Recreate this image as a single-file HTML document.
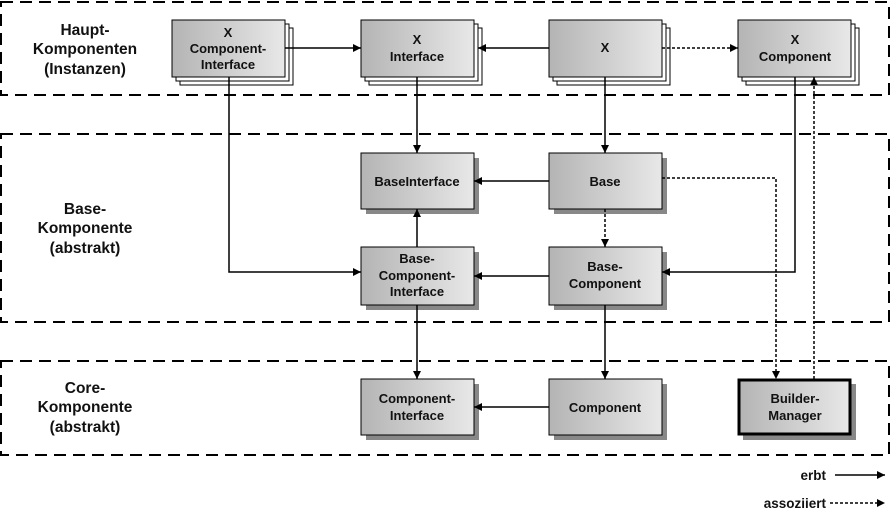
<!DOCTYPE html>
<html><head><meta charset="utf-8"><style>
html,body{margin:0;padding:0;background:#fff;width:891px;height:511px;overflow:hidden}
text{font-family:"Liberation Sans",Arial,sans-serif;font-weight:bold;font-size:13px;fill:#111}
text.big{font-size:15.5px}
text.leg{font-size:13.5px}
</style></head><body>
<svg width="891" height="511" viewBox="0 0 891 511" xmlns="http://www.w3.org/2000/svg">
<defs>
<linearGradient id="g" x1="0" x2="1" y1="0" y2="0"><stop offset="0" stop-color="#b4b4b4"/><stop offset="1" stop-color="#e8e8e8"/></linearGradient>
<marker id="a" viewBox="0 0 10 10" refX="10" refY="5" markerWidth="10" markerHeight="8" orient="auto" markerUnits="userSpaceOnUse"><path d="M0,0L10,5L0,10z" fill="#000"/></marker>
</defs>
<g fill="none" stroke="#000" stroke-width="2" stroke-dasharray="12,7">
<rect x="1" y="2" width="888" height="93"/>
<rect x="1" y="134" width="888" height="188"/>
<rect x="1" y="361" width="888" height="94"/>
</g>
<g text-anchor="middle">
<text class="big" x="85" y="35">Haupt-</text><text class="big" x="85" y="54">Komponenten</text><text class="big" x="85" y="74">(Instanzen)</text>
<text class="big" x="85" y="214">Base-</text><text class="big" x="85" y="233">Komponente</text><text class="big" x="85" y="253">(abstrakt)</text>
<text class="big" x="85" y="393">Core-</text><text class="big" x="85" y="412">Komponente</text><text class="big" x="85" y="432">(abstrakt)</text>
</g>
<g stroke="#000" stroke-width="1">
<g fill="#fff">
<rect x="180" y="28" width="113" height="57"/><rect x="176" y="24" width="113" height="57"/>
<rect x="369" y="28" width="113" height="57"/><rect x="365" y="24" width="113" height="57"/>
<rect x="557" y="28" width="113" height="57"/><rect x="553" y="24" width="113" height="57"/>
<rect x="746" y="28" width="113" height="57"/><rect x="742" y="24" width="113" height="57"/>
</g>
<g fill="url(#g)">
<rect x="172" y="20" width="113" height="57"/>
<rect x="361" y="20" width="113" height="57"/>
<rect x="549" y="20" width="113" height="57"/>
<rect x="738" y="20" width="113" height="57"/>
</g>
<g fill="#888" stroke="none">
<rect x="366" y="158" width="113" height="56"/><rect x="554" y="158" width="113" height="56"/>
<rect x="366" y="252" width="113" height="58"/><rect x="554" y="252" width="113" height="58"/>
<rect x="366" y="384" width="113" height="56"/><rect x="554" y="384" width="113" height="56"/>
<rect x="743" y="384" width="113" height="56"/>
</g>
<g fill="url(#g)">
<rect x="361" y="153" width="113" height="56"/><rect x="549" y="153" width="113" height="56"/>
<rect x="361" y="247" width="113" height="58"/><rect x="549" y="247" width="113" height="58"/>
<rect x="361" y="379" width="113" height="56"/><rect x="549" y="379" width="113" height="56"/>
<rect x="739" y="380" width="111" height="54" stroke-width="3"/>
</g>
</g>
<g text-anchor="middle">
<text x="228" y="37">X</text><text x="228" y="53">Component-</text><text x="228" y="69">Interface</text>
<text x="417" y="44">X</text><text x="417" y="61">Interface</text>
<text x="605" y="52">X</text>
<text x="795" y="44">X</text><text x="795" y="61">Component</text>
<text x="417" y="186">BaseInterface</text>
<text x="605" y="186">Base</text>
<text x="417" y="263">Base-</text><text x="417" y="280">Component-</text><text x="417" y="296">Interface</text>
<text x="605" y="271">Base-</text><text x="605" y="288">Component</text>
<text x="417" y="403">Component-</text><text x="417" y="420">Interface</text>
<text x="605" y="412">Component</text>
<text x="795" y="403">Builder-</text><text x="795" y="420">Manager</text>
</g>
<g fill="none" stroke="#000" stroke-width="1.5" marker-end="url(#a)">
<path d="M285 48H361"/>
<path d="M549 48H478"/>
<path d="M229 77V272H361"/>
<path d="M417 77V153"/>
<path d="M605 77V153"/>
<path d="M795 77V272H662"/>
<path d="M549 181H474"/>
<path d="M549 276H474"/>
<path d="M417 247V209"/>
<path d="M417 305V379"/>
<path d="M605 305V379"/>
<path d="M549 407H474"/>
<path d="M835 475H885"/>
</g>
<g fill="none" stroke="#000" stroke-width="1.5" stroke-dasharray="3,2" marker-end="url(#a)">
<path d="M662 48H738"/>
<path d="M605 209V247"/>
<path d="M662 178H776V379"/>
<path d="M814 379V77"/>
<path d="M830 503H885"/>
</g>
<text class="leg" x="826" y="480" text-anchor="end">erbt</text>
<text class="leg" x="826" y="508" text-anchor="end">assoziiert</text>
</svg>
</body></html>
